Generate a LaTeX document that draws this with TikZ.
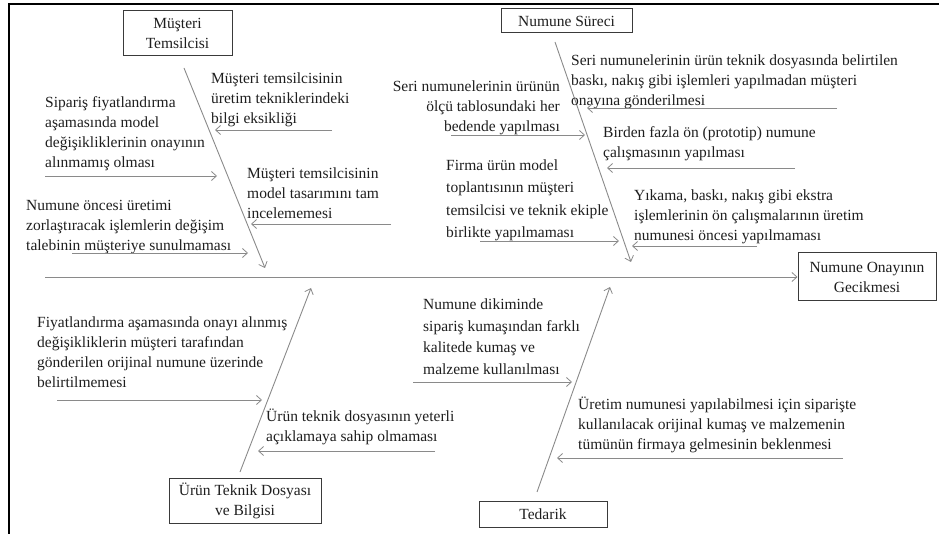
\documentclass[tikz,border=0pt]{standalone}
\usepackage{fontspec}
\setmainfont{Liberation Serif}
\usetikzlibrary{arrows.meta}
\definecolor{boneGray}{HTML}{8A8A8A}
\definecolor{boxLine}{HTML}{3A3A3A}
\definecolor{inkText}{HTML}{1E1E1E}
% cause texts and box labels
\newcommand\causefont{\fontsize{15.5}{20}\selectfont}
\newcommand\causefontwide{\fontsize{15.5}{22.5}\selectfont}
\newcommand\causefontmid{\fontsize{15.5}{21.5}\selectfont}
\newcommand\boxfont{\fontsize{15.5}{20}\selectfont}

\begin{document}
\begin{tikzpicture}[x=1pt,y=-1pt,
  bone/.style={draw=boneGray, line width=0.9pt,
    -{Straight Barb[length=5pt,width=9pt,line width=0.8pt]}},
  cause/.style={font=\causefont, text=inkText, inner sep=0pt, align=left,
    anchor=north west, execute at begin node={\rule{0pt}{13pt}}},
  causer/.style={cause, align=right, anchor=north east},
  catbox/.style={draw=boxLine, line width=1pt, font=\boxfont, text=inkText,
    align=center, inner sep=0pt},
]
\useasboundingbox (0,0) rectangle (939,534);

% outer frame (top and left edges)
\draw[line width=2pt, black] (9,534) -- (9,4) -- (939,4);

% effect box and spine
\node[catbox, minimum width=138pt, minimum height=48pt] (E) at (867,277)
  {Numune Onayının\\Gecikmesi};
\coordinate (s0) at (45,277);
\draw[bone] (s0) -- (E.west);

% category boxes
\node[catbox, minimum width=109pt, minimum height=45pt] (MT) at (177.5,33.5)
  {Müşteri\\Temsilcisi};
\node[catbox, minimum width=131pt, minimum height=24pt] (NS) at (566.5,21)
  {Numune Süreci};
\node[catbox, minimum width=152pt, minimum height=45pt] (UT) at (245,501)
  {Ürün Teknik Dosyası\\ve Bilgisi};
\node[catbox, minimum width=128pt, minimum height=26pt] (TD) at (543,514)
  {Tedarik};

% main bones
\coordinate (tl0) at (184,68);  \coordinate (tl1) at (265,268);
\coordinate (tr0) at (555,42);  \coordinate (tr1) at (631,262);
\coordinate (bl0) at (240,472); \coordinate (bl1) at (311,288);
\coordinate (br0) at (537,492); \coordinate (br1) at (610,287);
\draw[bone] (tl0) -- (tl1);
\draw[bone] (tr0) -- (tr1);
\draw[bone] (bl0) -- (bl1);
\draw[bone] (br0) -- (br1);

% --- Müşteri Temsilcisi causes
\node[cause] (t1) at (211,73)
  {Müşteri temsilcisinin\\üretim tekniklerindeki\\bilgi eksikliği};
\coordinate (a1s) at (332,130); \coordinate (a1e) at (215,130);
\draw[bone] (a1s) -- (a1e);

\node[cause] (t2) at (45,96)
  {Sipariş fiyatlandırma\\aşamasında model\\değişikliklerinin onayının\\alınmamış olması};
\coordinate (a2s) at (45,176); \coordinate (a2e) at (217,176);
\draw[bone] (a2s) -- (a2e);

\node[cause] (t3) at (247,168)
  {Müşteri temsilcisinin\\model tasarımını tam\\incelememesi};
\coordinate (a3s) at (391,224); \coordinate (a3e) at (251,224);
\draw[bone] (a3s) -- (a3e);

\node[cause] (t4) at (26,200)
  {Numune öncesi üretimi\\zorlaştıracak işlemlerin değişim\\talebinin müşteriye sunulmaması};
\coordinate (a4s) at (72,253); \coordinate (a4e) at (248,253);
\draw[bone] (a4s) -- (a4e);

% --- Numune Süreci causes
\node[causer] (t5) at (560,80.5)
  {Seri numunelerinin ürünün\\ölçü tablosundaki her\\bedende yapılması};
\coordinate (a5s) at (451,135); \coordinate (a5e) at (585,135);
\draw[bone] (a5s) -- (a5e);

\node[cause] (t6) at (571,55)
  {Seri numunelerinin ürün teknik dosyasında belirtilen\\baskı, nakış gibi işlemleri yapılmadan müşteri\\onayına gönderilmesi};
\coordinate (a6s) at (837,108); \coordinate (a6e) at (587,108);
\draw[bone] (a6s) -- (a6e);

\node[cause] (t7) at (603,126.5)
  {Birden fazla ön (prototip) numune\\çalışmasının yapılması};
\coordinate (a7s) at (795,168); \coordinate (a7e) at (607,168);
\draw[bone] (a7s) -- (a7e);

\node[cause, font=\causefontwide] (t8) at (446,159.5)
  {Firma ürün model\\toplantısının müşteri\\temsilcisi ve teknik ekiple\\birlikte yapılmaması};
\coordinate (a8s) at (480,241); \coordinate (a8e) at (619,241);
\draw[bone] (a8s) -- (a8e);

\node[cause] (t9) at (634,190)
  {Yıkama, baskı, nakış gibi ekstra\\işlemlerinin ön çalışmalarının üretim\\numunesi öncesi yapılmaması};
\coordinate (a9s) at (757,246); \coordinate (a9e) at (632,246);
\draw[bone] (a9s) -- (a9e);

% --- Ürün Teknik Dosyası ve Bilgisi causes
\node[cause] (t10) at (37,317)
  {Fiyatlandırma aşamasında onayı alınmış\\değişikliklerin müşteri tarafından\\gönderilen orijinal numune üzerinde\\belirtilmemesi};
\coordinate (a10s) at (57,400); \coordinate (a10e) at (262,400);
\draw[bone] (a10s) -- (a10e);

\node[cause] (t11) at (266,408.5)
  {Ürün teknik dosyasının yeterli\\açıklamaya sahip olmaması};
\coordinate (a11s) at (435,451); \coordinate (a11e) at (258,451);
\draw[bone] (a11s) -- (a11e);

% --- Tedarik causes
\node[cause, font=\causefontmid] (t12) at (423,299)
  {Numune dikiminde\\sipariş kumaşından farklı\\kalitede kumaş ve\\malzeme kullanılması};
\coordinate (a12s) at (413,382); \coordinate (a12e) at (572,382);
\draw[bone] (a12s) -- (a12e);

\node[cause] (t13) at (578,397)
  {Üretim numunesi yapılabilmesi için siparişte\\kullanılacak orijinal kumaş ve malzemenin\\tümünün firmaya gelmesinin beklenmesi};
\coordinate (a13s) at (843,458); \coordinate (a13e) at (557,458);
\draw[bone] (a13s) -- (a13e);
\end{tikzpicture}
\end{document}
